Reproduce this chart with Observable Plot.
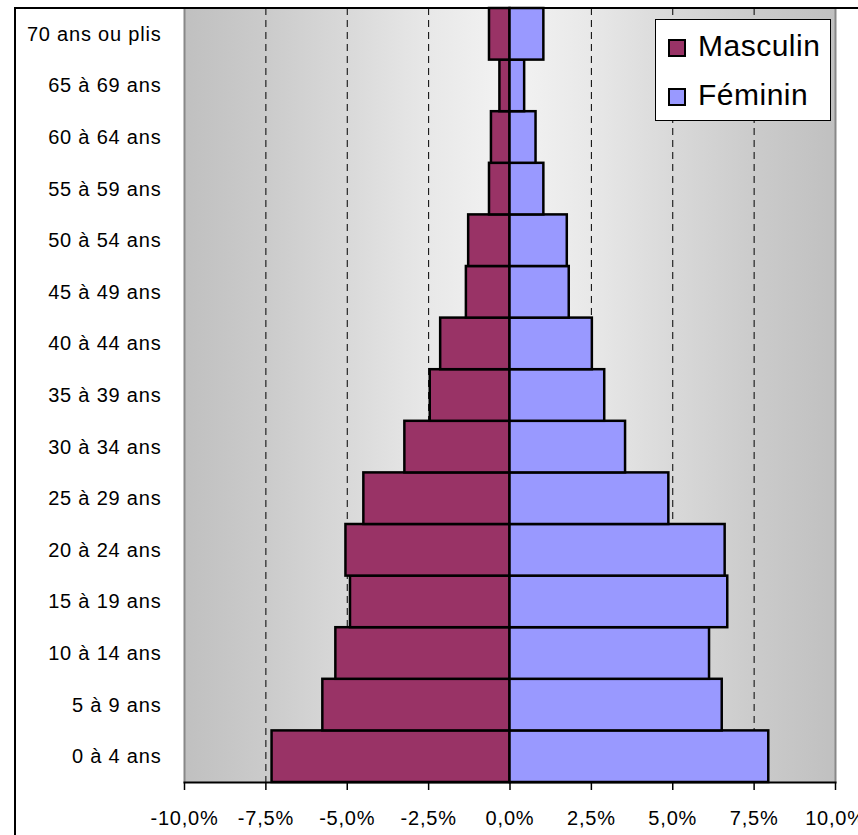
<!DOCTYPE html>
<html>
<head>
<meta charset="utf-8">
<script src="https://cdn.jsdelivr.net/npm/d3@7"></script>
<script src="https://cdn.jsdelivr.net/npm/@observablehq/plot@0.6"></script>
<style>
  html, body { margin: 0; padding: 0; background: #fff; }
  #wrap { position: relative; width: 858px; height: 835px; overflow: hidden; font-family: "Liberation Sans", Arial, sans-serif; }
  #border { position: absolute; left: 14px; top: 7px; right: -5px; bottom: -5px; border-left: 2px solid #000; border-top: 2px solid #000; pointer-events: none; }
  #chart { position: absolute; left: 0; top: 0; }
  #chart svg text { letter-spacing: 0.8px; }
  #legend { position: absolute; left: 655px; top: 19px; width: 174px; height: 100px; border: 1px solid #000; background: #fff; }
  .sw { position: absolute; left: 12px; width: 18px; height: 18px; box-sizing: border-box; border: 2px solid #000; }
  .lt { position: absolute; left: 42px; font-size: 30px; line-height: 30px; letter-spacing: 0.5px; color: #000; white-space: nowrap; }
</style>
</head>
<body>
<div id="wrap">
  <div id="chart"></div>
  <div id="border"></div>
  <div id="legend"></div>
</div>
<script>
// Age groups, bottom (youngest) to top (oldest)
const ages = ["0 à 4 ans", "5 à 9 ans", "10 à 14 ans", "15 à 19 ans", "20 à 24 ans", "25 à 29 ans", "30 à 34 ans", "35 à 39 ans", "40 à 44 ans", "45 à 49 ans", "50 à 54 ans", "55 à 59 ans", "60 à 64 ans", "65 à 69 ans", "70 ans ou plis"];
// Share of population (%), males drawn to the left as negative values
const masculin = [-7.31, -5.75, -5.35, -4.90, -5.04, -4.49, -3.23, -2.45, -2.13, -1.34, -1.27, -0.63, -0.57, -0.31, -0.63];
const feminin = [7.95, 6.52, 6.13, 6.69, 6.61, 4.88, 3.55, 2.91, 2.53, 1.82, 1.76, 1.04, 0.80, 0.45, 1.04];
const seriesNames = ["Masculin", "Féminin"];
const seriesColors = ["#993366", "#9999ff"];
const xTicks = [-10, -7.5, -5, -2.5, 0, 2.5, 5, 7.5, 10];
const gridTicks = [-7.5, -5, -2.5, 2.5, 5, 7.5];
const xDomain = [-10, 10];

const dataM = ages.map((a, i) => ({age: a, value: masculin[i]}));
const dataF = ages.map((a, i) => ({age: a, value: feminin[i]}));
const fmt = d => d.toFixed(1).replace(".", ",") + "%";

const svg = Plot.plot({
  width: 858,
  height: 835,
  marginLeft: 184,
  marginRight: 23,
  marginTop: 8,
  marginBottom: 53,
  style: {fontFamily: "'Liberation Sans', Arial, sans-serif", fontSize: "20px", background: "transparent", color: "#000", overflow: "visible"},
  x: {domain: xDomain, ticks: xTicks, tickFormat: fmt, label: null},
  y: {domain: ages.slice().reverse(), padding: 0, round: false, label: null},
  marks: [
    Plot.frame({fill: "url(#bgGrad)", stroke: null}),
    Plot.ruleX(gridTicks, {stroke: "#000", strokeWidth: 1, strokeDasharray: "7,5"}),
    Plot.ruleX(xDomain, {stroke: "#888", strokeWidth: 2}),
    Plot.barX(dataM, {y: "age", x: "value", fill: seriesColors[0], stroke: "#000", strokeWidth: 2.5}),
    Plot.barX(dataF, {y: "age", x: "value", fill: seriesColors[1], stroke: "#000", strokeWidth: 2.5}),
    Plot.frame({anchor: "bottom", stroke: "#000", strokeWidth: 2}),
    Plot.axisX({ticks: xTicks, tickFormat: fmt, tickSize: 8, tickPadding: 20, stroke: "#000", strokeWidth: 1.5, fontSize: 20, label: null}),
    Plot.axisY({tickSize: 0, tickPadding: 23, fontSize: 20, label: null})
  ]
});

d3.select(svg).insert("defs", ":first-child").html(
  '<linearGradient id="bgGrad" x1="0" x2="1" y1="0" y2="0">' +
  '<stop offset="0" stop-color="#c0c0c0"/>' +
  '<stop offset="0.125" stop-color="#cbcbcb"/>' +
  '<stop offset="0.25" stop-color="#d9d9d9"/>' +
  '<stop offset="0.375" stop-color="#e8e8e8"/>' +
  '<stop offset="0.5" stop-color="#f3f3f3"/>' +
  '<stop offset="0.625" stop-color="#e8e8e8"/>' +
  '<stop offset="0.75" stop-color="#d9d9d9"/>' +
  '<stop offset="0.875" stop-color="#cbcbcb"/>' +
  '<stop offset="1" stop-color="#c0c0c0"/>' +
  '</linearGradient>'
);
document.getElementById("chart").appendChild(svg);

// Legend
const legend = document.getElementById("legend");
const rows = [{sw: 19, tx: 11}, {sw: 68, tx: 60}];
seriesNames.forEach((name, i) => {
  const s = document.createElement("div");
  s.className = "sw";
  s.style.top = rows[i].sw + "px";
  s.style.background = seriesColors[i];
  legend.appendChild(s);
  const t = document.createElement("div");
  t.className = "lt";
  t.style.top = rows[i].tx + "px";
  t.textContent = name;
  legend.appendChild(t);
});
</script>
</body>
</html>
